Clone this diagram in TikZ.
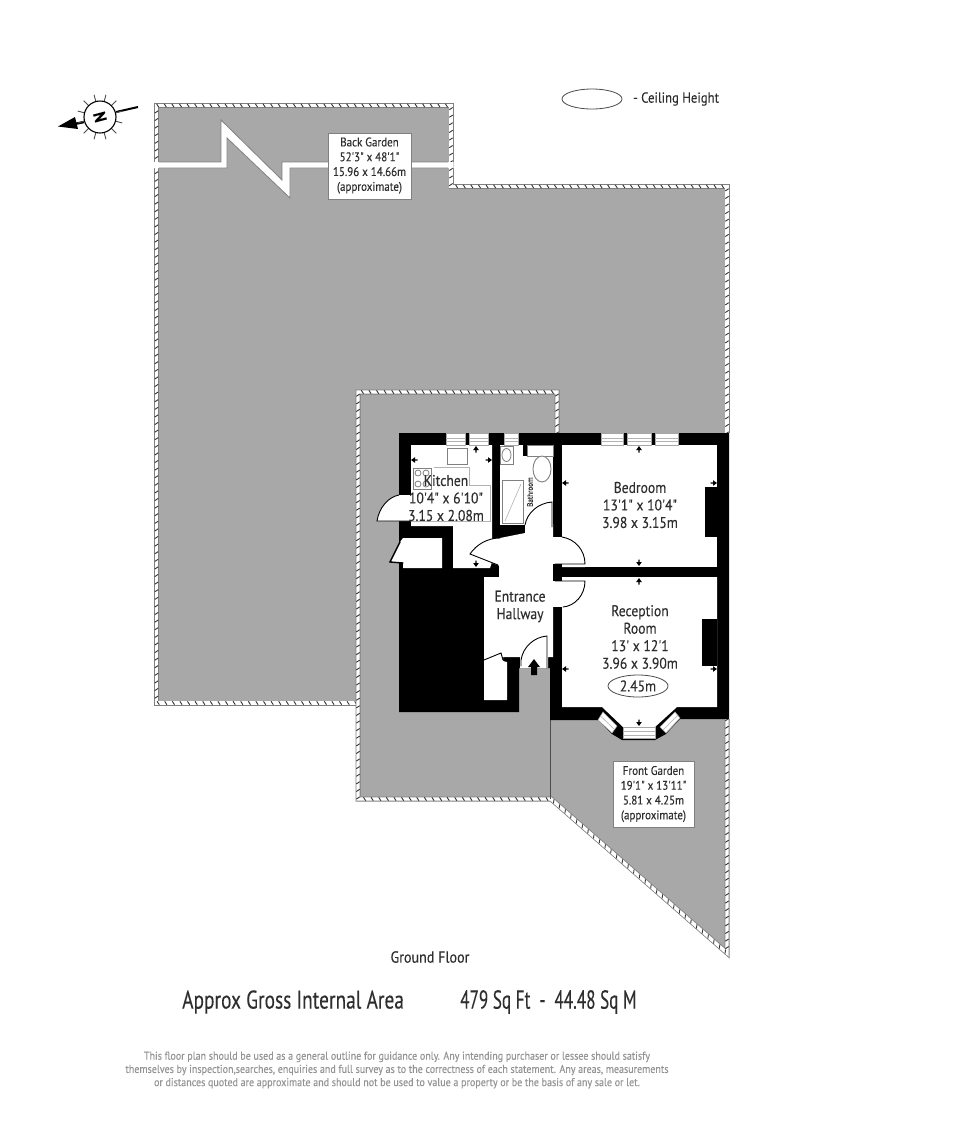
\documentclass[tikz,border=0pt]{standalone}
\usepackage{fontspec}
\usetikzlibrary{decorations.markings}
\newfontfamily\planfont[FakeStretch=0.88,FakeBold=0.12]{PT Sans}
\newfontfamily\titlefont[FakeStretch=0.76,FakeBold=0.12]{PT Sans}
\newfontfamily\areafont[FakeStretch=0.66,FakeBold=0.12]{PT Sans}
\definecolor{garden}{HTML}{A8A8A8}
\definecolor{txt}{HTML}{2E2E2E}
\definecolor{fix}{HTML}{808080}
\tikzset{
  fence/.style={line width=5pt,draw=fix,line join=miter,
    postaction={draw=white,line width=3.4pt},
    postaction={decorate,decoration={markings,mark=between positions 0 and 1 step 7.6pt with {\draw[black!80,line width=0.9pt] (-1.1,-1.7) -- (1.1,1.7);}}}},
  wall/.style={fill=black,draw=none},
  room/.style={fill=white,draw=none},
  leaf/.style={draw=black,line width=0.9pt,line cap=round},
  fixture/.style={draw=fix,line width=0.9pt,fill=white},
  fineline/.style={draw=fix!60,line width=0.6pt},
  windowpane/.style={fill=white,draw=fix!70,line width=0.6pt},
  roomlabel/.style={font=\planfont\fontsize{15.5}{17.5}\selectfont,text=txt,align=center,inner sep=0pt},
  gardenlabel/.style={font=\planfont\fontsize{12.5}{14.8}\selectfont,text=txt,align=center,inner sep=0pt},
  labelbox/.style={fill=white,draw=fix,line width=0.8pt},
}
\newcommand{\walltick}[3]{\fill[black,shift={(#1,#2)},rotate=#3] (-2.8,0) -- (2.8,0) -- (0,-4) -- cycle (-0.6,0) rectangle (0.6,2.5);}
\begin{document}
\begin{tikzpicture}[x=1pt,y=-1pt]
\useasboundingbox (0,0) rectangle (980,1128);
\fill[white] (0,0) rectangle (980,1128);
% garden
\fill[garden] (157,105) -- (451,105) -- (451,186) -- (727,186) -- (727,953) -- (551,799) -- (358,799) -- (358,703) -- (157,703) -- cycle;
\draw[fence] (727,433) -- (727,186.5) -- (451,186.5) -- (451,105.5) -- (156.5,105.5) -- (156.5,703) -- (358,703);
\draw[fence] (557,433) -- (557,392) -- (358,392) -- (358,799) -- (551,799) -- (727,953) -- (727,719);
\draw[draw=black!70,line width=0.9pt] (550.5,719) -- (550.5,799);
% break in garden
\fill[white] (153.5,162) -- (221,162) -- (221,120) -- (282,180) -- (282,162) -- (453.5,162) -- (453.5,168) -- (290,168) -- (290,198) -- (227,138) -- (227,168) -- (153.5,168) -- cycle;
\draw[fix,line width=0.8pt] (159,162) -- (221,162) -- (221,120) -- (282,180) -- (282,162) -- (448,162) (448,168) -- (290,168) -- (290,198) -- (227,138) -- (227,168) -- (159,168);
% walls
\fill[wall] (399,433) -- (729,433) -- (729,719) -- (680,719) -- (666,734) -- (655,740) -- (622,740) -- (612,734) -- (598,720) -- (550,720) -- (550,668) -- (519,668) -- (519,712) -- (399,712) -- cycle;
% rooms
\fill[room] (411,445) -- (492,445) -- (492,562) -- (490,568) -- (453,568) -- (453,526) -- (411,526) -- cycle;
\fill[room] (500,445) rectangle (553,525);
\fill[room] (562,445) -- (717,445) -- (717,567) -- (562,567) -- cycle;
\fill[wall] (705,487) rectangle (717,537);
\fill[room] (562,577) -- (717,577) -- (717,707) -- (677,707) -- (655,727) -- (623,727) -- (602,707) -- (562,707) -- cycle;
\fill[wall] (702,619) rectangle (717,666);
% hall
\fill[room] (500,538) -- (525,533) -- (525,524) -- (553,524) -- (553,537) -- (562,537) -- (562,564) -- (585,564) -- (585,567) -- (553,567) -- (553,607) -- (553,657) -- (548,657) -- (548,668) -- (520,668) -- (520,657) -- (503,657) -- (503,661) -- (507,662) -- (507,700) -- (484,700) -- (484,577) -- (499,577) -- (499,565) -- cycle;
\fill[wall] (553,564) rectangle (562,581);
\fill[room] (562,577) rectangle (585,581);
\fill[room] (470,555) .. controls (476,545) and (487,538) .. (500,538) -- (500,566) -- cycle;
% reception door and bedroom door
\fill[room] (553,581) rectangle (562,607);
\draw[leaf] (562,537) .. controls (575,539) and (585,550) .. (585,564) -- (555,564);
\draw[leaf] (555,581) -- (585,581) .. controls (585,595) and (575,606) .. (563,607);
% bathroom door
\draw[leaf] (525,525) .. controls (527,513) and (538,503) .. (552,502) -- (552,527);
% kitchen-hall door
\draw[leaf] (500,538) .. controls (487,538) and (476,545) .. (470,554) -- (498,565);
% kitchen external door
\fill[room] (411,495) -- (399,495) .. controls (388,497) and (379,508) .. (377,521) -- (411,521) -- cycle;
\draw[leaf] (399,495) .. controls (388,497) and (379,508) .. (377,521) -- (410,521);
% under-stairs cupboard
\fill[room] (403,538) -- (442,538) -- (442,568) -- (403,568) -- (403,563) -- (390,562) -- (400,542) -- cycle;
\draw[leaf,line width=1.4pt] (400,542) -- (390,562) -- (403,563);
% hall cupboard door
\draw[leaf] (484,660) -- (501,653) -- (503,660);
% main door
\draw[leaf] (521,666) -- (521,660) .. controls (523,647) and (534,637) .. (547,636) -- (547,668);
\fill[black] (534,659) -- (540,667) -- (537,667) -- (537,675) -- (531,675) -- (531,667) -- (528,667) -- cycle;
% windows
\foreach \xa/\xb in {446/465,469/488,504/518,601/623,627/651,655/678}{
  \fill[windowpane] (\xa,433.5) rectangle (\xb,445);
  \draw[fineline] (\xa,438) -- (\xb,438) (\xa,441) -- (\xb,441);
}
\fill[windowpane] (623,727.5) rectangle (655,738.5);
\draw[fineline] (623,731) -- (655,731) (623,735) -- (655,735);
\fill[windowpane] (660,727) -- (675,712) -- (680,718) -- (666,733) -- cycle;
\draw[fineline] (663,730) -- (678,715);
\fill[windowpane] (598,720) -- (603,712) -- (617,726) -- (612,733) -- cycle;
\draw[fineline] (600.5,716) -- (614.5,729.5);
% kitchen fittings
\draw[fineline] (434,467) -- (469,467) -- (469,485) -- (490,485) -- (490,521) -- (411,521);
\draw[fixture] (447,448) rectangle (467,464);
\draw[fixture] (413,468) rectangle (431,489);
\foreach \cx/\cy in {418/473,426/473,418/484,426/484}{\draw[draw=fix,line width=0.8pt] (\cx,\cy) circle (3);}
% bathroom fittings
\draw[fixture] (500,446) rectangle (513,464);
\draw[fix,line width=0.8pt] (506.5,455) ellipse (4.5 and 6.5);
\fill[wall] (523,445) rectangle (527,456);
\draw[fixture] (527,445) rectangle (553,456);
\draw[fixture] (542,469) ellipse (9 and 13);
\draw[fixture,line width=1.6pt] (502.5,480.5) rectangle (523.5,523.5);
\draw[fineline] (505,521) -- (521,484);
\node[rotate=90,font=\planfont\fontsize{8}{9}\selectfont,text=txt,inner sep=0pt] (bath) at (530,492) {Bathroom};
% ticks
\walltick{639}{450}{0}\walltick{566}{483}{90}\walltick{713}{483}{-90}\walltick{639}{562}{180}
\walltick{639}{582}{0}\walltick{566}{669}{90}\walltick{713}{669}{-90}\walltick{639}{722}{180}
\walltick{476}{450}{0}\walltick{415}{460}{90}\walltick{488}{460}{-90}\walltick{476}{563}{180}
% room labels
\node[roomlabel] (kitchen) at (446,498) {Kitchen\\10'4" x 6'10"\\3.15 x 2.08m};
\node[roomlabel] (bedroom) at (640,505) {Bedroom\\13'1" x 10'4"\\3.98 x 3.15m};
\node[roomlabel] (reception) at (640,637) {Reception\\Room\\13' x 12'1\\3.96 x 3.90m};
\node[roomlabel] (hallway) at (520,606.5) {Entrance\\Hallway};
\draw[black!70,line width=0.8pt] (638,686) ellipse (30 and 11);
\node[roomlabel] (ceil) at (638,686) {2.45m};
% garden labels
\node[labelbox,minimum width=83pt,minimum height=66pt,inner sep=0pt] (bgbox) at (369.5,166) {};
\node[gardenlabel] (bg) at (369.5,165.5) {Back Garden\\52'3" x 48'1"\\15.96 x 14.66m\\(approximate)};
\node[labelbox,minimum width=81pt,minimum height=66pt,inner sep=0pt] (fgbox) at (653.5,794) {};
\node[gardenlabel] (fg) at (653.5,794) {Front Garden\\19'1" x 13'11"\\5.81 x 4.25m\\(approximate)};
% compass
\draw[black,line width=2pt] (116,112) -- (138,107);
\draw[black,line width=2.4pt] (84,122) -- (70,125);
\fill[black] (58,126.5) -- (75,117) -- (78,129) -- cycle;
\foreach \a in {15,45,...,345}{\draw[black!70,line width=0.9pt] (100,117) ++(\a:16) -- ++(\a:7);}
\draw[black,line width=1.1pt,fill=white] (100,117) circle (16);
\node[rotate=105,font=\planfont\bfseries\fontsize{17}{17}\selectfont,inner sep=0pt] (north) at (100,117) {N};
% key
\draw[black!70,line width=0.8pt] (592,99) ellipse (30 and 10);
\node[font=\planfont\fontsize{14.5}{16}\selectfont,text=txt,anchor=west,inner sep=0pt] (key) at (633,99) {- Ceiling Height};
% captions
\node[font=\planfont\fontsize{16}{18}\selectfont,text=txt,inner sep=0pt] (floor) at (430,957) {Ground Floor};
\node[font=\titlefont\fontsize{25.5}{28}\selectfont,text=txt,anchor=west,inner sep=0pt] (area) at (182,1002) {Approx Gross Internal Area};
\node[font=\areafont\fontsize{26}{28}\selectfont,text=txt,anchor=west,inner sep=0pt] (sqft) at (460,1002) {479 Sq Ft\ \,-\ \,44.48 Sq M};
\node[font=\planfont\fontsize{11.4}{13.2}\selectfont,text=black!42,align=center,inner sep=0pt] (note) at (397,1070) {This floor plan should be used as a general outline for guidance only. Any intending purchaser or lessee should satisfy\\themselves by inspection,searches, enquiries and full survey as to the correctness of each statement. Any areas, measurements\\or distances quoted are approximate and should not be used to value a property or be the basis of any sale or let.};
\end{tikzpicture}
\end{document}
